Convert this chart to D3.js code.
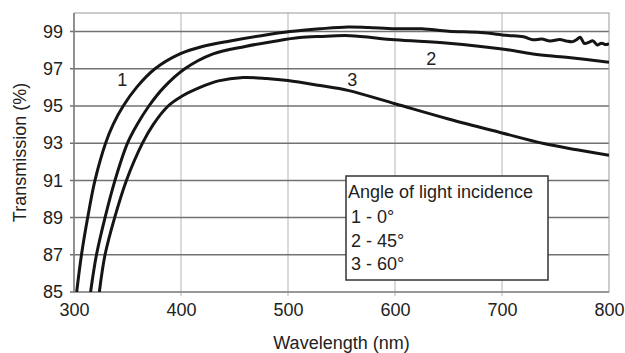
<!DOCTYPE html>
<html>
<head>
<meta charset="utf-8">
<script src="https://cdn.jsdelivr.net/npm/d3@7"></script>
<style>
  body { margin: 0; background: #fff; }
  text { font-family: "Liberation Sans", Arial, sans-serif; fill: #222; }
</style>
</head>
<body>
<svg id="chart" width="625" height="353"></svg>
<script>
'use strict';
// transmission vs wavelength, three angles of incidence

const xTicks = [300, 400, 500, 600, 700, 800];
const yTicks = [85, 87, 89, 91, 93, 95, 97, 99];

// 1 - 0 deg
const wl0 = [302.5, 307, 312.8, 319.6, 329.5, 336.5, 346, 358.5, 375.7, 399, 420, 446, 475, 502, 530, 556, 575, 600, 625, 650, 680, 704, 720, 729, 737, 745, 754, 760, 766, 770, 773, 777, 781, 785, 789, 793, 797, 800];
const t0  = [85, 87, 89, 91, 93, 94, 95, 96, 97, 97.8, 98.2, 98.5, 98.78, 99, 99.15, 99.25, 99.22, 99.15, 99.15, 99.02, 98.95, 98.8, 98.72, 98.56, 98.6, 98.5, 98.57, 98.5, 98.46, 98.58, 98.7, 98.36, 98.42, 98.5, 98.28, 98.38, 98.3, 98.36];

// 2 - 45 deg
const wl45 = [315.5, 321, 329, 338.3, 350, 359, 370, 384, 403.6, 430, 460, 489, 511, 530, 558, 600, 650, 700, 729, 760, 800];
const t45  = [85, 87, 89, 91, 93, 94, 95, 96, 97, 97.8, 98.2, 98.5, 98.68, 98.74, 98.78, 98.56, 98.38, 98.07, 97.8, 97.62, 97.35];

// 3 - 60 deg
const wl60 = [323.7, 329, 338, 349, 364, 374, 388, 400, 417.8, 435, 458, 480, 500, 530, 556, 600, 650, 700, 739, 770, 800];
const t60  = [85, 87, 89, 91, 93, 94, 95, 95.5, 96, 96.35, 96.53, 96.48, 96.37, 96.1, 95.84, 95.12, 94.3, 93.55, 92.98, 92.65, 92.35];

const curveNames = ['1', '2', '3'];
const legendTitle = 'Angle of light incidence';
const legendItems = ['1 - 0°', '2 - 45°', '3 - 60°'];

const margin = {top: 13, right: 16, bottom: 61, left: 74};
const W = 625, H = 353;
const w = W - margin.left - margin.right,
      h = H - margin.top - margin.bottom;

const svg = d3.select('#chart');
const g = svg.append('g').attr('transform', `translate(${margin.left},${margin.top})`);

const x = d3.scaleLinear().domain([300, 800]).range([0, w]);
const y = d3.scaleLinear().domain([85, 100]).range([h, 0]);

// grid
g.selectAll('.vgrid')
  .data(xTicks.slice(1, -1))
  .enter().append('line')
  .attr('x1', d => x(d)).attr('x2', d => x(d))
  .attr('y1', 0).attr('y2', h + 4)
  .attr('stroke', '#b5b5b5').attr('stroke-width', 1);

g.selectAll('.hgrid')
  .data(yTicks)
  .enter().append('line')
  .attr('x1', -4).attr('x2', w)
  .attr('y1', d => y(d)).attr('y2', d => y(d))
  .attr('stroke', '#727272').attr('stroke-width', 1.5);

// frame
g.append('rect')
  .attr('width', w).attr('height', h)
  .attr('fill', 'none').attr('stroke', '#9a9a9a').attr('stroke-width', 1);

g.append('line')
  .attr('x1', 0).attr('x2', 0).attr('y1', 0).attr('y2', h)
  .attr('stroke', '#777').attr('stroke-width', 1.4);

// axes
const xAxis = g.append('g')
  .attr('transform', `translate(0,${h})`)
  .call(d3.axisBottom(x).tickValues(xTicks).tickSize(0).tickPadding(11));
const yAxis = g.append('g')
  .call(d3.axisLeft(y).tickValues(yTicks).tickSize(0).tickPadding(11));
[xAxis, yAxis].forEach(a => {
  a.select('.domain').remove();
  a.selectAll('text').style('font-size', '18px')
    .attr('font-family', '"Liberation Sans", Arial, sans-serif').attr('fill', '#222');
});

// curves
svg.append('defs').append('clipPath').attr('id', 'clip')
  .append('rect').attr('width', w).attr('height', h);

const line = d3.line()
  .x(d => x(d[0])).y(d => y(d[1]))
  .curve(d3.curveCatmullRom.alpha(0.5));

const series = [d3.zip(wl0, t0), d3.zip(wl45, t45), d3.zip(wl60, t60)];

g.append('g').attr('clip-path', 'url(#clip)')
  .selectAll('path')
  .data(series)
  .enter().append('path')
  .attr('d', line)
  .attr('fill', 'none')
  .attr('stroke', '#151515')
  .attr('stroke-width', 3)
  .attr('stroke-linejoin', 'round');

// curve numbers
const labelPos = [[345, 96.1], [634, 97.2], [560, 96.1]];
g.selectAll('.clabel')
  .data(curveNames)
  .enter().append('text')
  .attr('x', (d, i) => x(labelPos[i][0]))
  .attr('y', (d, i) => y(labelPos[i][1]))
  .attr('text-anchor', 'middle')
  .style('font-size', '18px')
  .text(d => d);

// legend
const lg = g.append('g').attr('transform', `translate(${346 - margin.left},${176 - margin.top})`);
lg.append('rect')
  .attr('width', 202).attr('height', 104)
  .attr('fill', '#fff').attr('stroke', '#333').attr('stroke-width', 1.5);
lg.append('text')
  .attr('x', 2).attr('y', 22)
  .style('font-size', '18px')
  .text(legendTitle);
lg.selectAll('.item')
  .data(legendItems)
  .enter().append('text')
  .attr('x', 5).attr('y', (d, i) => 47 + i * 23.5)
  .style('font-size', '18px')
  .text(d => d);

// axis titles
svg.append('text')
  .attr('x', margin.left + w / 2).attr('y', 349)
  .attr('text-anchor', 'middle')
  .style('font-size', '18px')
  .text('Wavelength (nm)');
svg.append('text')
  .attr('transform', `translate(26,${margin.top + h / 2}) rotate(-90)`)
  .attr('text-anchor', 'middle')
  .style('font-size', '18px')
  .text('Transmission (%)');
</script>
</body>
</html>
